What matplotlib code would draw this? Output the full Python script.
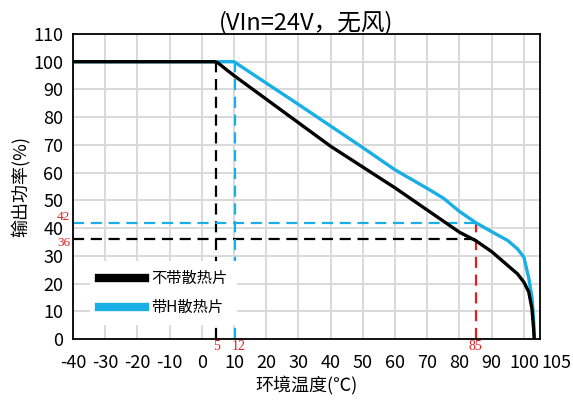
import matplotlib
matplotlib.use("Agg")
import matplotlib.pyplot as plt
from matplotlib.lines import Line2D

plt.rcParams['font.family'] = ['Noto Sans CJK SC', 'DejaVu Sans']
plt.rcParams['axes.unicode_minus'] = False

# Data
temp_no_sink = [-40, 4, 5, 8, 10, 20, 30, 40, 50, 60, 70, 80, 85, 90, 95, 98, 100, 101.5, 102.5, 103, 103.2]
power_no_sink = [100, 100, 99.6, 96.8, 95, 86.5, 78, 69.5, 62, 54.5, 46.5, 38.5, 35.5, 31.5, 26.5, 23.5, 20.5, 17, 11, 4, 0]
temp_sink = [-40, 10, 20, 30, 40, 50, 60, 70, 75, 80, 85, 90, 95, 98, 100, 101.5, 102.5, 103, 103.3]
power_sink = [100, 100, 92.3, 84.6, 76.8, 69, 61, 54.3, 50.8, 46, 42, 38.7, 35.5, 32.5, 29.5, 22, 15, 7, 0]

x_ticks = [-40, -30, -20, -10, 0, 10, 20, 30, 40, 50, 60, 70, 80, 90, 100]
y_ticks = [0, 10, 20, 30, 40, 50, 60, 70, 80, 90, 100, 110]

derate_no_sink_x = 4.5
derate_sink_x = 10.3
ref_temp = 85
ref_power_no_sink = 36
ref_power_sink = 42
labels_x = ["5", "12", "85"]
labels_x_pos = [4.5, 11.5, 85]

legend_labels = ["不带散热片", "带H散热片"]
title = "(VIn=24V，无风)"
xlabel = "环境温度(℃)"
ylabel = "输出功率(%)"

blue = '#1aaee6'
red = '#e02020'

fig = plt.figure(figsize=(5.73, 4.0), dpi=100)
ax = fig.add_axes([73/573, 61/400, 467/573, 305/400])

ax.set_xlim(-40, 105)
ax.set_ylim(0, 110)
ax.set_xticks(x_ticks)
ax.set_yticks(y_ticks)
ax.tick_params(axis='x', length=0, labelsize=13, pad=11)
ax.tick_params(axis='y', length=0, labelsize=13, pad=7)
ax.grid(True, color='#d9d9d9', linewidth=1.4)
ax.set_axisbelow(True)
for s in ax.spines.values():
    s.set_color('black')
    s.set_linewidth(1.3)

# extra 105 tick label, offset to the right
ax.annotate("105", xy=(105, 0), xycoords=('data', 'axes fraction'),
            xytext=(12, -11), textcoords='offset points', ha='center', va='top', fontsize=13)

dash = (0, (5, 3))
# dashed guide lines
ax.plot([derate_no_sink_x, derate_no_sink_x], [0, 100], color='black', lw=1.6, linestyle=dash)
ax.plot([-40, ref_temp], [ref_power_no_sink, ref_power_no_sink], color='black', lw=1.6, linestyle=dash)
ax.plot([derate_sink_x, derate_sink_x], [0, 100], color=blue, lw=1.6, linestyle=dash)
ax.plot([-40, ref_temp], [ref_power_sink, ref_power_sink], color=blue, lw=1.6, linestyle=dash)
ax.plot([ref_temp, ref_temp], [0, ref_power_sink], color=red, lw=1.6, linestyle=dash)

# curves
ax.plot(temp_no_sink, power_no_sink, color='black', lw=2.4, solid_joinstyle='round', zorder=4)
ax.plot(temp_sink, power_sink, color=blue, lw=2.4, solid_joinstyle='round', zorder=3)

# red value labels
for lab, xp in zip(labels_x, labels_x_pos):
    ax.annotate(lab, xy=(xp, 0), xycoords=('data', 'axes fraction'), xytext=(0, -1),
                textcoords='offset points', ha='center', va='top',
                fontsize=10, color=red, family='Liberation Serif')
for v, dy in ((ref_power_sink, 4), (ref_power_no_sink, -3)):
    ax.annotate(str(v), xy=(0, v), xycoords=('axes fraction', 'data'), xytext=(-2, dy),
                textcoords='offset points', ha='right', va='center',
                fontsize=9.5, color=red, family='Liberation Serif')

handles = [Line2D([], [], color='black', lw=6), Line2D([], [], color=blue, lw=6)]
leg = ax.legend(handles, legend_labels, loc='lower left', bbox_to_anchor=(0.02, 0.02),
                fontsize=11, handlelength=3.0, frameon=True, facecolor='white',
                edgecolor='none', framealpha=1, fancybox=False, borderpad=0.6,
                labelspacing=0.8, handletextpad=0.4)
leg.set_zorder(5)

ax.set_title(title, fontsize=17, pad=3)
ax.set_xlabel(xlabel, fontsize=13, labelpad=2)
ax.set_ylabel(ylabel, fontsize=13, labelpad=2)

fig.savefig("out.png", dpi=100)
